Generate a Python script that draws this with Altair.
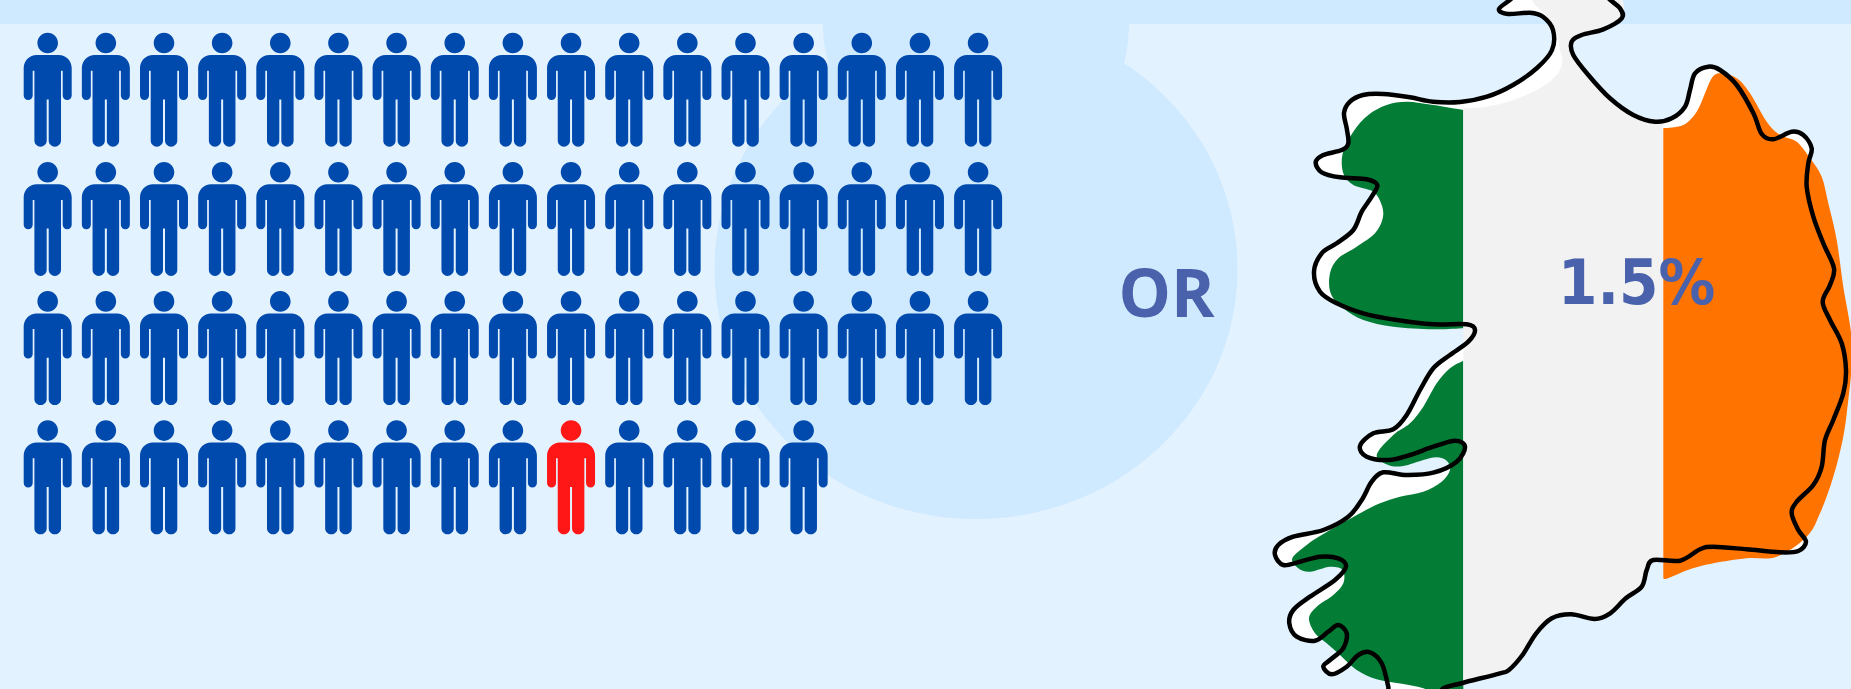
import altair as alt
import pandas as pd

W, H = 1851, 689
BG = "#e3f2ff"
PALE = "#cfe9ff"
BLUE = "#004aad"
RED = "#ff1616"
TEXT = "#4a61ac"

# Pictogram: one figure in 65 is highlighted
ROW_LENGTHS = [17, 17, 17, 14]
HIGHLIGHT = (3, 9)
COL_X0, COL_STEP = 47.7, 58.15
ROW_Y0, ROW_STEP = 89.7, 129.2

# Backdrop shapes
BAND = {"x": [0], "x2": [W], "y": [0], "y2": [24]}
ELLIPSE_X = [976]
ELLIPSE_Y = [269]
DISC_X = [976]
DISC_Y = [24]

# Map outline, clockwise from the northern tip
COAST = [
    (1512, -2), (1499, 9), (1508, 14), (1530, 12.7), (1543, 16.7), (1553, 30), (1552, 50), (1537, 68), (1513, 85),
    (1487, 96.7), (1460, 102), (1433, 101.7), (1410, 97.3), (1383, 94), (1363, 95), (1350, 101.7), (1344, 113),
    (1346.7, 128.3), (1348.3, 143.3), (1341.7, 150), (1323.3, 155), (1315.7, 162.3), (1321.7, 172.3), (1340, 177.3),
    (1366.7, 179.3), (1377.3, 185), (1371.7, 196.7), (1361.7, 211.7), (1353.3, 230), (1336.7, 243.3), (1321.7, 253.3),
    (1314, 271.7), (1320, 291.7), (1336.7, 303.3), (1363.3, 313.3), (1396.7, 320), (1433.3, 324.3), (1466.7, 324.3),
    (1475, 330), (1468.3, 341.7), (1450, 355), (1433.3, 368.3), (1420, 390), (1406.7, 415), (1393.3, 429.3),
    (1373.3, 433.3), (1360, 446), (1366.7, 456.7), (1388.3, 460), (1410, 455), (1433.3, 446.7), (1455, 440.7),
    (1465, 446.7), (1456.7, 461.7), (1433.3, 472.7), (1406.7, 475), (1383.3, 472.3), (1371.7, 481.7), (1361.7, 500),
    (1348.3, 516.7), (1323.3, 530), (1293.3, 536.7), (1278.3, 545), (1275, 555), (1283.3, 565), (1300, 561.7),
    (1320, 556.7), (1338.3, 558.3), (1346, 566.7), (1335, 580), (1310, 596.7), (1293.3, 610), (1289.3, 623.3),
    (1296.7, 636.7), (1315, 640.7), (1328.3, 631.7), (1338.3, 625), (1346.7, 633.3), (1343.3, 648.3), (1330, 660),
    (1323.3, 666.7), (1331.7, 674.3), (1346.7, 666.7), (1358.3, 655), (1370, 652.3), (1381.7, 663.3), (1388.3, 686.7),
    (1390, 697), (1436.7, 697), (1443.3, 688.3), (1463.3, 682.7), (1500, 673.3), (1508.9, 670), (1522.5, 655),
    (1536.2, 633.3), (1551.8, 618.3), (1571.2, 614.3), (1594.6, 619), (1610.2, 613.3), (1625.8, 598.3), (1641.7, 586.7),
    (1646.7, 570), (1653.3, 560), (1680, 560.7), (1700, 549.3), (1713.3, 546.7), (1746.7, 549.3), (1780, 552.3),
    (1798.3, 551), (1806, 541.7), (1798.3, 530), (1791.7, 513.3), (1796.7, 501.7), (1813.3, 485), (1821.7, 466.7),
    (1825, 440), (1833.3, 420), (1843.3, 393.3), (1846, 370), (1841.7, 343.3), (1830, 320), (1822.7, 301.7),
    (1830, 285), (1834, 268.3), (1823.3, 243.3), (1813.3, 216.7), (1806.7, 186.7), (1808.3, 163.3), (1811.7, 148.3),
    (1803.3, 135), (1791.7, 131.7), (1773.3, 139.3), (1761.7, 134), (1753.3, 113), (1736.7, 85), (1720, 70),
    (1708.3, 66.7), (1695, 73.3), (1690, 90), (1685, 106.7), (1671.7, 118.3), (1655, 121.7), (1633.3, 115),
    (1610, 98.3), (1588.3, 75), (1573.3, 55), (1571.7, 41.7), (1581.7, 35), (1603.3, 29.3), (1621.7, 18.3),
    (1620, 8.3), (1608.3, -2), (1600, -15), (1520, -15),
]

# Flag bands; repeated vertices keep their corners sharp under the closed spline
GREEN_NORTH = [
    (1463.3, 110), (1463.3, 110), (1463.3, 110), (1433.3, 105), (1406.7, 101.7), (1386.7, 105), (1368.3, 115),
    (1353.3, 131.7), (1342.7, 153.3), (1343.3, 173.3), (1353.3, 185), (1373.3, 191.7), (1381.7, 205), (1382.7, 218.3),
    (1375, 233.3), (1356.7, 246.7), (1338.3, 258.3), (1330, 273.3), (1330.7, 293.3), (1343.3, 308.3), (1363.3, 320),
    (1393.3, 326.7), (1433.3, 329.3), (1463.3, 328.3), (1463.3, 328.3), (1463.3, 328.3),
]
GREEN_SOUTH = [
    (1463.3, 360.7), (1463.3, 360.7), (1463.3, 360.7), (1450, 368.3), (1436.7, 383.3), (1423.3, 406.7), (1410, 423.3),
    (1393.3, 435), (1376.7, 455), (1388.3, 465), (1403.3, 466), (1423.3, 460), (1436.7, 457.3), (1446.7, 460.7),
    (1450, 470), (1441.7, 481.7), (1423.3, 491.7), (1400, 496.7), (1380, 503.3), (1360, 513.3), (1321.7, 535),
    (1306.7, 545), (1292.3, 558.3), (1298.3, 568.3), (1310, 571.7), (1330, 566.7), (1342.7, 570), (1343.3, 583.3),
    (1333.3, 595), (1316.7, 606.7), (1309, 618.3), (1315, 633.3), (1326.7, 643.3), (1340, 655), (1356.7, 670),
    (1376.7, 679.3), (1403.3, 684), (1423.3, 688.3), (1436.7, 695), (1463.3, 695), (1463.3, 695), (1463.3, 695),
]
MIDDLE = [
    (1463.3, 108.3), (1463.3, 108.3), (1463.3, 108.3), (1486.7, 106.7), (1513.3, 100), (1540, 88.3), (1556.7, 75),
    (1562.3, 61.7), (1560, 50), (1556.7, 33), (1546.7, 16), (1533, 2), (1532, -10), (1532, -10), (1610, -10),
    (1623.3, 13.3), (1603.3, 30), (1581.7, 35), (1571.7, 41.7), (1573.3, 55), (1588.3, 75), (1610, 98.3), (1633.3, 115),
    (1655, 121.7), (1663.3, 121.7), (1663.3, 121.7), (1663.3, 121.7), (1663.3, 560), (1663.3, 560), (1663.3, 560),
    (1653.3, 560), (1646.7, 570), (1641.7, 586.7), (1625.8, 598.3), (1610.2, 613.3), (1594.6, 619), (1571.2, 614.3),
    (1551.8, 618.3), (1536.2, 633.3), (1522.5, 655), (1508.9, 670), (1463.3, 682.7), (1463.3, 682.7), (1463.3, 682.7),
]
ORANGE = [
    (1663.3, 128.3), (1663.3, 128.3), (1663.3, 128.3), (1683.3, 125), (1696.7, 111.7), (1705, 93.3), (1711.7, 78.3),
    (1720, 73.3), (1736.7, 78.3), (1750, 93.3), (1766.7, 121.7), (1780, 135), (1796.7, 141.7), (1810, 158.3),
    (1821.7, 176.7), (1828.3, 203.3), (1836.7, 240), (1843.3, 286.7), (1850.7, 330), (1852, 360), (1851, 375),
    (1848.3, 400), (1843.3, 436.7), (1833.3, 476.7), (1820, 513.3), (1806.7, 536.7), (1776.7, 556.7), (1746.7, 558.3),
    (1713.3, 563.3), (1690, 569.3), (1666.7, 578.7), (1663.3, 577.3), (1663.3, 577.3), (1663.3, 577.3),
]

LABEL_OR = {"x": [1118.5], "y": [317.3], "t": ["OR"]}
LABEL_PCT = {"x": [1558], "y": [304], "t": ["1.5%"]}

# Custom symbol paths are in pixels around the symbol centre; size 4 leaves them at scale 1
PERSON = (
    "M-10.3,-46.7A10.3,10.3 0 1 1 10.3,-46.7A10.3,10.3 0 1 1 -10.3,-46.7Z"
    "M-11,-34.7L11,-34.7A13,13 0 0 1 24,-21.7L24,5.8A4.5,4.5 0 0 1 15,5.8L15,-19L13.3,-19L13.3,50.85"
    "A6.15,6.15 0 0 1 1,50.85L1,9.7L-1,9.7L-1,50.85A6.15,6.15 0 0 1 -13.3,50.85L-13.3,-19L-15,-19"
    "L-15,5.8A4.5,4.5 0 0 1 -24,5.8L-24,-21.7A13,13 0 0 1 -11,-34.7Z"
)
ELLIPSE = "M-261.5,0A261.5,250 0 1 1 261.5,0A261.5,250 0 1 1 -261.5,0Z"
DISC = "M-153,0A153,153 0 1 1 153,0A153,153 0 1 1 -153,0Z"

X = alt.X("x:Q", scale=alt.Scale(domain=[0, W], range=[0, W]), axis=None)
Y = alt.Y("y:Q", scale=alt.Scale(domain=[0, H], range=[0, H]), axis=None)


def map_shape(points, **mark):
    df = pd.DataFrame(points, columns=["x", "y"]).assign(i=range(len(points)))
    return alt.Chart(df).mark_line(**mark).encode(x=X, y=Y, order=alt.Order("i:Q"))


def backdrop(xs, ys, path):
    df = pd.DataFrame({"x": xs, "y": ys})
    return alt.Chart(df).mark_point(shape=path, filled=True, opacity=1, size=4, color=PALE).encode(x=X, y=Y)


band = alt.Chart(pd.DataFrame(BAND)).mark_rect(color=PALE).encode(x=X, x2="x2:Q", y=Y, y2="y2:Q")
ellipse = backdrop(ELLIPSE_X, ELLIPSE_Y, ELLIPSE)
disc = backdrop(DISC_X, DISC_Y, DISC)

people = pd.DataFrame([
    {
        "x": COL_X0 + c * COL_STEP,
        "y": ROW_Y0 + r * ROW_STEP,
        "hue": RED if (r, c) == HIGHLIGHT else BLUE,
    }
    for r, n in enumerate(ROW_LENGTHS)
    for c in range(n)
])
figures = (
    alt.Chart(people)
    .mark_point(shape=PERSON, filled=True, opacity=1, size=4)
    .encode(x=X, y=Y, color=alt.Color("hue:N", scale=None, legend=None))
)

curve = {"interpolate": "cardinal-closed", "tension": 0}
land = map_shape(COAST, fill="#ffffff", stroke=None, **curve)
green_n = map_shape(GREEN_NORTH, fill="#037c35", stroke=None, **curve)
green_s = map_shape(GREEN_SOUTH, fill="#037c35", stroke=None, **curve)
middle = map_shape(MIDDLE, fill="#f2f2f2", stroke=None, **curve)
orange = map_shape(ORANGE, fill="#ff7300", stroke=None, **curve)
coast = map_shape(COAST, stroke="#000000", strokeWidth=4.5, strokeJoin="round", **curve)

or_label = (
    alt.Chart(pd.DataFrame(LABEL_OR))
    .mark_text(font="Open Sans", fontWeight="bold", fontSize=66, align="left", baseline="alphabetic", color=TEXT)
    .encode(x=X, y=Y, text="t:N")
)
pct_label = (
    alt.Chart(pd.DataFrame(LABEL_PCT))
    .mark_text(font="DejaVu Sans Condensed", fontWeight="bold", fontSize=63, align="left", baseline="alphabetic", color=TEXT)
    .encode(x=X, y=Y, text="t:N")
)

chart = (
    alt.layer(band, ellipse, disc, figures, land, green_n, green_s, middle, orange, coast, or_label, pct_label)
    .properties(width=W, height=H, padding=0, background=BG, autosize=alt.AutoSizeParams(type="none"))
    .configure_view(stroke=None)
)

chart.save("out.html", embed_options={"renderer": "svg", "actions": False})
